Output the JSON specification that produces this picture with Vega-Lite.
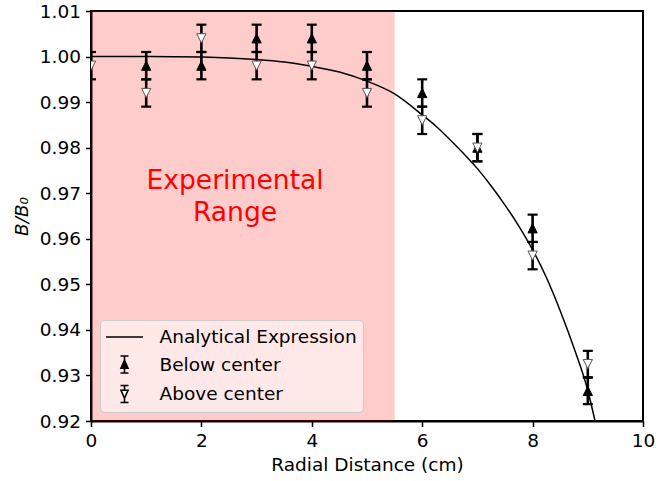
{
  "$schema": "https://vega.github.io/schema/vega-lite/v6.json",
  "width": 552,
  "height": 410,
  "autosize": {"type": "none"},
  "padding": {"left": 91, "top": 11, "right": 26, "bottom": 60},
  "config": {
    "font": "DejaVu Sans",
    "view": {"stroke": "black", "strokeWidth": 2},
    "axis": {
      "zindex": 1,
      "labelFlush": false,
      "labelFont": "DejaVu Sans", "labelFontSize": 18.5, "labelColor": "black",
      "titleFont": "DejaVu Sans", "titleFontSize": 18.5, "titleFontWeight": "normal", "titleColor": "black",
      "tickColor": "black", "tickSize": 5.5, "tickWidth": 1.5,
      "domainColor": "black", "domainWidth": 2,
      "gridColor": "#b0b0b0", "gridOpacity": 0.45, "gridWidth": 1.2,
      "labelPadding": 5
    },
    "legend": {
      "orient": "bottom-left", "offset": 9, "title": null,
      "fillColor": "rgba(255,255,255,0.55)", "strokeColor": "#cccccc", "cornerRadius": 4,
      "padding": 6, "labelFont": "DejaVu Sans", "labelFontSize": 18.5, "labelColor": "black", "labelLimit": 400,
      "symbolSize": 400, "symbolOffset": 7.5, "labelOffset": 24, "rowPadding": 5.5, "symbolStrokeWidth": 1.6
    }
  },
  "datasets": {
    "curve": [
      {"x": 0, "y": 1.0, "series": "Analytical Expression"},
      {"x": 0.5, "y": 1.0, "series": "Analytical Expression"},
      {"x": 1.0, "y": 0.99999, "series": "Analytical Expression"},
      {"x": 1.5, "y": 0.99996, "series": "Analytical Expression"},
      {"x": 2.0, "y": 0.99988, "series": "Analytical Expression"},
      {"x": 2.5, "y": 0.9997, "series": "Analytical Expression"},
      {"x": 3.0, "y": 0.99935, "series": "Analytical Expression"},
      {"x": 3.5, "y": 0.9988, "series": "Analytical Expression"},
      {"x": 4.0, "y": 0.99785, "series": "Analytical Expression"},
      {"x": 4.5, "y": 0.9966, "series": "Analytical Expression"},
      {"x": 5.0, "y": 0.9946, "series": "Analytical Expression"},
      {"x": 5.5, "y": 0.9918, "series": "Analytical Expression"},
      {"x": 6.0, "y": 0.9872, "series": "Analytical Expression"},
      {"x": 6.25, "y": 0.9847, "series": "Analytical Expression"},
      {"x": 6.5, "y": 0.9818, "series": "Analytical Expression"},
      {"x": 6.75, "y": 0.9787, "series": "Analytical Expression"},
      {"x": 7.0, "y": 0.9754, "series": "Analytical Expression"},
      {"x": 7.25, "y": 0.9716, "series": "Analytical Expression"},
      {"x": 7.5, "y": 0.9674, "series": "Analytical Expression"},
      {"x": 7.75, "y": 0.9628, "series": "Analytical Expression"},
      {"x": 8.0, "y": 0.9576, "series": "Analytical Expression"},
      {"x": 8.25, "y": 0.9515, "series": "Analytical Expression"},
      {"x": 8.5, "y": 0.9442, "series": "Analytical Expression"},
      {"x": 8.75, "y": 0.936, "series": "Analytical Expression"},
      {"x": 9.0, "y": 0.9267, "series": "Analytical Expression"},
      {"x": 9.15, "y": 0.919, "series": "Analytical Expression"}
    ],
    "pts": [
      {"x": 1, "y": 0.998, "lo": 0.995, "hi": 1.001, "series": "Below center"},
      {"x": 2, "y": 0.998, "lo": 0.995, "hi": 1.001, "series": "Below center"},
      {"x": 3, "y": 1.004, "lo": 1.001, "hi": 1.007, "series": "Below center"},
      {"x": 4, "y": 1.004, "lo": 1.001, "hi": 1.007, "series": "Below center"},
      {"x": 5, "y": 0.998, "lo": 0.995, "hi": 1.001, "series": "Below center"},
      {"x": 6, "y": 0.992, "lo": 0.989, "hi": 0.995, "series": "Below center"},
      {"x": 7, "y": 0.98, "lo": 0.977, "hi": 0.983, "series": "Below center"},
      {"x": 8, "y": 0.9623, "lo": 0.9593, "hi": 0.9653, "series": "Below center"},
      {"x": 9, "y": 0.9266, "lo": 0.9237, "hi": 0.9295, "series": "Below center"},
      {"x": 0, "y": 0.998, "lo": 0.995, "hi": 1.001, "series": "Above center"},
      {"x": 1, "y": 0.992, "lo": 0.989, "hi": 0.995, "series": "Above center"},
      {"x": 2, "y": 1.004, "lo": 1.001, "hi": 1.007, "series": "Above center"},
      {"x": 3, "y": 0.998, "lo": 0.995, "hi": 1.001, "series": "Above center"},
      {"x": 4, "y": 0.998, "lo": 0.995, "hi": 1.001, "series": "Above center"},
      {"x": 5, "y": 0.992, "lo": 0.989, "hi": 0.995, "series": "Above center"},
      {"x": 6, "y": 0.986, "lo": 0.983, "hi": 0.989, "series": "Above center"},
      {"x": 7, "y": 0.98, "lo": 0.977, "hi": 0.983, "series": "Above center"},
      {"x": 8, "y": 0.9563, "lo": 0.9533, "hi": 0.9593, "series": "Above center"},
      {"x": 9, "y": 0.9325, "lo": 0.9296, "hi": 0.9354, "series": "Above center"}
    ]
  },
  "layer": [
    {
      "data": {"values": [{}]},
      "mark": {"type": "rect", "color": "#ff0000", "opacity": 0.2},
      "encoding": {
        "x": {"datum": 0, "type": "quantitative", "scale": {"domain": [0, 10], "nice": false, "zero": false},
              "axis": {"values": [0, 2, 4, 6, 8, 10], "title": "Radial Distance (cm)", "titlePadding": 5}},
        "x2": {"datum": 5.5}
      }
    },
    {
      "data": {"values": [{}]},
      "mark": {"type": "text", "text": "Experimental\nRange", "lineBreak": "\n", "align": "center", "baseline": "alphabetic",
               "fontSize": 26.6, "lineHeight": 32, "color": "#ff0000", "font": "DejaVu Sans"},
      "encoding": {
        "x": {"datum": 2.61, "type": "quantitative"},
        "y": {"datum": 0.971, "type": "quantitative"}
      }
    },
    {
      "data": {"name": "curve"},
      "mark": {"type": "line", "strokeWidth": 1.5, "interpolate": "monotone", "clip": true},
      "encoding": {
        "x": {"field": "x", "type": "quantitative"},
        "y": {"field": "y", "type": "quantitative",
              "scale": {"domain": [0.92, 1.01], "nice": false, "zero": false},
              "axis": {"values": [0.92, 0.93, 0.94, 0.95, 0.96, 0.97, 0.98, 0.99, 1.0, 1.01], "format": ".2f",
                       "title": "B/B₀", "titleFontStyle": "italic", "titlePadding": 8}},
        "stroke": {"field": "series", "type": "nominal",
                   "scale": {"domain": ["Analytical Expression", "Below center", "Above center"], "range": ["black", "black", "black"]}}
      }
    },
    {
      "data": {"name": "pts"},
      "mark": {"type": "rule", "color": "black", "strokeWidth": 2.6, "clip": true},
      "encoding": {
        "x": {"field": "x", "type": "quantitative"},
        "y": {"field": "lo", "type": "quantitative"},
        "y2": {"field": "hi"}
      }
    },
    {
      "data": {"name": "pts"},
      "mark": {"type": "tick", "orient": "horizontal", "color": "black", "size": 10, "thickness": 2.2, "opacity": 1, "clip": true},
      "encoding": {
        "x": {"field": "x", "type": "quantitative"},
        "y": {"field": "lo", "type": "quantitative"}
      }
    },
    {
      "data": {"name": "pts"},
      "mark": {"type": "tick", "orient": "horizontal", "color": "black", "size": 10, "thickness": 2.2, "opacity": 1, "clip": true},
      "encoding": {
        "x": {"field": "x", "type": "quantitative"},
        "y": {"field": "hi", "type": "quantitative"}
      }
    },
    {
      "data": {"name": "pts"},
      "transform": [{"filter": "datum.series === 'Below center'"}],
      "mark": {"type": "point", "shape": "M0,-1L1,1L-1,1Z", "filled": true, "fill": "black", "stroke": "black", "opacity": 1, "size": 85, "strokeWidth": 1, "clip": true},
      "encoding": {
        "x": {"field": "x", "type": "quantitative"},
        "y": {"field": "y", "type": "quantitative"}
      }
    },
    {
      "data": {"name": "pts"},
      "transform": [{"filter": "datum.series === 'Above center'"}],
      "mark": {"type": "point", "shape": "M0,1L1,-1L-1,-1Z", "filled": true, "fill": "white", "stroke": "#555555", "opacity": 1, "size": 85, "strokeWidth": 1, "clip": true},
      "encoding": {
        "x": {"field": "x", "type": "quantitative"},
        "y": {"field": "y", "type": "quantitative"}
      }
    },
    {
      "data": {"name": "pts"},
      "mark": {"type": "point", "filled": true, "opacity": 1, "size": 0, "clip": true},
      "encoding": {
        "x": {"field": "x", "type": "quantitative"},
        "y": {"field": "y", "type": "quantitative"},
        "shape": {"field": "series", "type": "nominal",
                  "scale": {"domain": ["Analytical Expression", "Below center", "Above center"],
                            "range": ["M-1.85,0L1.85,0",
                                      "M0,-0.85L0,0.85M-0.4,-0.85L0.4,-0.85M-0.4,0.85L0.4,0.85M-0.35,0.38L0.35,0.38L0,-0.42Z",
                                      "M0,-0.85L0,-0.38M0,0.38L0,0.85M-0.4,-0.85L0.4,-0.85M-0.4,0.85L0.4,0.85M-0.35,-0.38L0.35,-0.38L0,0.42Z"]}},
        "fill": {"field": "series", "type": "nominal",
                 "scale": {"domain": ["Analytical Expression", "Below center", "Above center"], "range": ["transparent", "black", "white"]}},
        "stroke": {"field": "series", "type": "nominal"}
      }
    }
  ]
}
